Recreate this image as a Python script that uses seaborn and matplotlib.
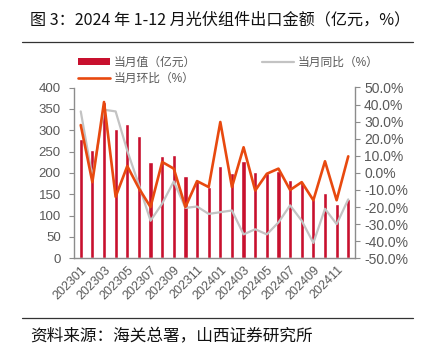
import matplotlib
matplotlib.use("Agg")
import matplotlib.pyplot as plt
from matplotlib.lines import Line2D
from matplotlib.patches import Patch
import seaborn as sns
import pandas as pd

months = ["202301", "202302", "202303", "202304", "202305", "202306",
          "202307", "202308", "202309", "202310", "202311", "202312",
          "202401", "202402", "202403", "202404", "202405", "202406",
          "202407", "202408", "202409", "202410", "202411", "202412"]
value = [280, 253, 366, 302, 315, 286, 226, 240, 243, 193, 182, 166,
         217, 199, 228, 202, 200, 204, 183, 178, 140, 154, 127, 140]
yoy = [36, -2.5, 37, 36, 13, -7, -28, -18, -5, -20.5, -19.7, -24,
       -23, -22, -36, -33, -36, -29, -19, -28, -41, -21, -30, -15.5]
mom = [28, -5.4, 41.5, -14, 4, -9, -20, 6.4, 2.5, -20, -4.8, -8.3,
       29.8, -8.3, 15, -10.3, -0.5, 2.5, -10, -5.4, -16, 6.8, -16, 9.7]

title = "图 3：2024 年 1-12 月光伏组件出口金额（亿元，%）"
source = "资料来源：海关总署，山西证券研究所"
lab_val = "当月值（亿元）"
lab_yoy = "当月同比（%）"
lab_mom = "当月环比（%）"

sns.set_style("white")
plt.rcParams['font.family'] = ['Liberation Sans', 'Noto Sans CJK SC', 'DejaVu Sans']

BAR = "#C8102E"
ORANGE = "#E8490F"
GRAY = "#C3C3C3"
TXT = "#595959"
SP = "#8C8C8C"

df = pd.DataFrame({"month": months, "value": value, "yoy": yoy, "mom": mom,
                   "idx": list(range(len(months)))})

fig = plt.figure(figsize=(4.23, 3.5), dpi=100)
ax = fig.add_axes([74/423, 1-258.3/350, (355-74)/423, (258.3-87.5)/350])
ax2 = ax.twinx()

sns.barplot(data=df, x="idx", y="value", color=BAR, width=0.36, ax=ax,
            saturation=1, native_scale=True)
sns.lineplot(data=df, x="idx", y="yoy", color=GRAY, lw=1.6, ax=ax2)
sns.lineplot(data=df, x="idx", y="mom", color=ORANGE, lw=1.9, ax=ax2)

ax.set_xlim(-0.58, 23.58)
ax.set_ylim(0, 400)
ax.set_yticks(range(0, 401, 50))
ax2.set_ylim(-50, 50)
ax2.set_yticks(range(-50, 51, 10))
ax2.set_yticklabels([f"{v:.1f}%" for v in range(-50, 51, 10)])

ax.set_xticks(range(len(months)))
ax.set_xticklabels([m if i % 2 == 0 else "" for i, m in enumerate(months)],
                   rotation=45, ha="right", rotation_mode="anchor")
ax.set_xticks([i - 0.5 for i in range(len(months) + 1)], minor=True)
ax.set_xlabel("")
ax.set_ylabel("")
ax2.set_xlabel("")
ax2.set_ylabel("")

for a in (ax, ax2):
    a.spines["top"].set_visible(False)
    for s in ("left", "right", "bottom"):
        a.spines[s].set_color(SP)
        a.spines[s].set_linewidth(1.0)
    a.tick_params(colors=TXT, labelsize=9.5, length=3.5, width=0.8, color=SP)
ax.spines["right"].set_visible(False)
ax2.spines["left"].set_visible(False)
ax2.spines["bottom"].set_visible(False)
ax.tick_params(axis="x", which="major", length=0, pad=4, labelsize=9)
ax.tick_params(axis="x", which="minor", length=3.5, width=0.8, color=SP,
               direction="out")
ax.tick_params(axis="y", pad=6)
ax2.tick_params(axis="y", pad=3, labelsize=10)

handles = [Patch(facecolor=BAR, edgecolor="none"),
           Line2D([], [], color=ORANGE, lw=1.9),
           Line2D([], [], color=GRAY, lw=1.6)]
labels = [lab_val, lab_mom, lab_yoy]
fig.legend(handles, labels, ncol=2, loc="upper left",
           bbox_to_anchor=(78/423, 1-57/350), frameon=False,
           fontsize=8.5, handlelength=2.7, handleheight=0.55,
           columnspacing=5.6, handletextpad=0.3, labelspacing=0.35,
           labelcolor=TXT, borderaxespad=0, borderpad=0)

fig.text(30/423, 1-20/350, title, fontsize=11.6, color="#111111",
         va="center", ha="left", family=['Noto Sans CJK SC', 'DejaVu Sans'])
fig.add_artist(Line2D([22/423, 413/423], [1-42/350, 1-42/350],
                      color="#333333", lw=0.9))
fig.add_artist(Line2D([22/423, 413/423], [1-318/350, 1-318/350],
                      color="#333333", lw=0.9))
fig.text(30/423, 1-337/350, source, fontsize=12, color="#111111",
         va="center", ha="left", family=['Noto Sans CJK SC', 'DejaVu Sans'])

fig.savefig("out.png", dpi=100)
